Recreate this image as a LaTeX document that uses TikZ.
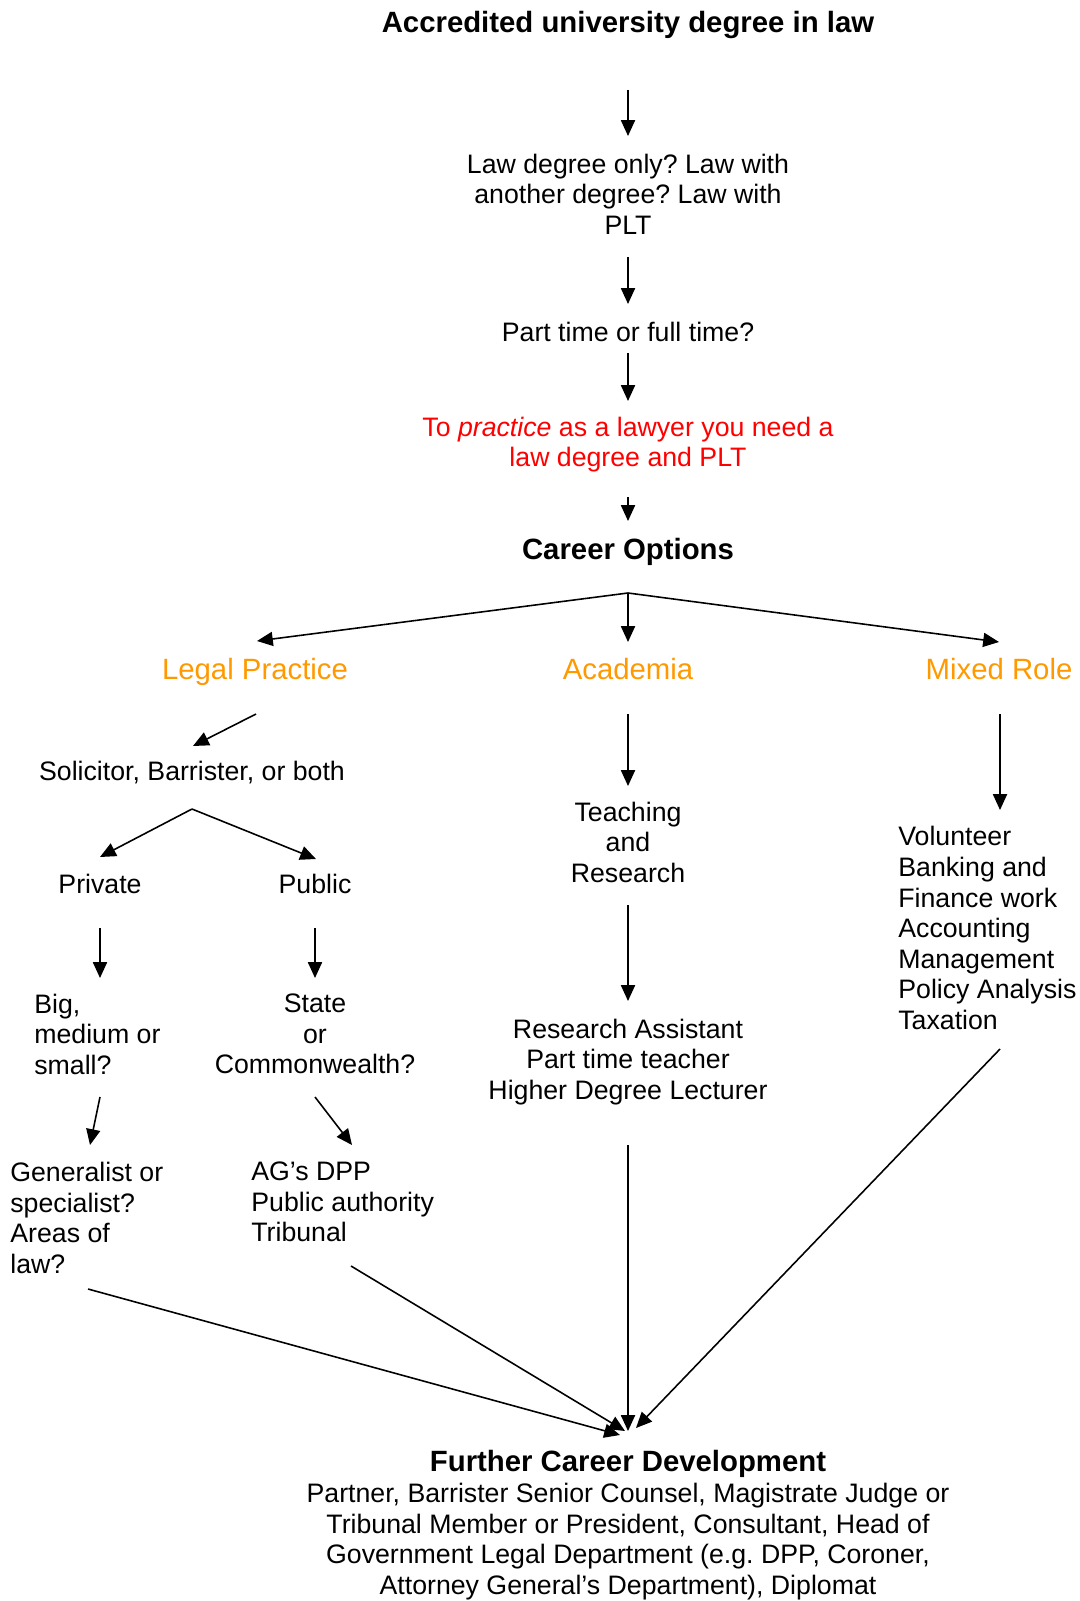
\documentclass[tikz,border=0pt]{standalone}
\usepackage{fontspec}
\setmainfont{Liberation Sans}
\usetikzlibrary{arrows.meta}
\definecolor{branchorange}{RGB}{255,153,0}
\frenchspacing
\begin{document}
\begin{tikzpicture}[x=0.02cm,y=-0.02cm,
    >={Triangle[length=9pt,width=8pt]},
    every node/.style={inner sep=0pt,text depth=0pt,font=\fontsize{15.2}{17.4}\selectfont},
    heading/.style={font=\fontsize{16.7}{19}\selectfont\bfseries},
    branch/.style={text=branchorange,font=\fontsize{16.7}{19}\selectfont},
    flow/.style={->,line width=0.9pt}]
            \useasboundingbox (0,0) rectangle (1079,1601);

            % main column
            \node[heading] (degree) at (628,22) {Accredited university degree in law};
            \node[align=center] (lawwith) at (628,194) {Law degree only? Law with\\another degree? Law with\\PLT};
            \node (parttime) at (628,332) {Part time or full time?};
            \node[align=center,text=red] (practise) at (628,442) {To \textit{practice} as a lawyer you need a\\law degree and PLT};
            \node[heading] (career) at (628,549) {Career Options};

            \coordinate (degout) at (628,90);    \coordinate (lawin) at (628,136);
            \coordinate (lawout) at (628,257);   \coordinate (partin) at (628,304);
            \coordinate (partout) at (628,353);  \coordinate (pracin) at (628,401);
            \coordinate (pracout) at (628,497);  \coordinate (carin) at (628,521);
            \draw[flow] (degout)--(lawin);
            \draw[flow] (lawout)--(partin);
            \draw[flow] (partout)--(pracin);
            \draw[flow] (pracout)--(carin);

            % three branches
            \node[branch] (legal) at (255,669) {Legal Practice};
            \node[branch] (academia) at (628,669) {Academia};
            \node[branch] (mixed) at (999,669) {Mixed Role};

            \coordinate (split) at (628,593);
            \coordinate (legalin) at (257,641);
            \coordinate (acadin) at (628,642);
            \coordinate (mixedin) at (999,642);
            \draw[flow] (split)--(legalin);
            \draw[flow] (split)--(acadin);
            \draw[flow] (split)--(mixedin);

            % legal practice
            \node (solicitor) at (192,771) {Solicitor, Barrister, or both};
            \node (private) at (100,884) {Private};
            \node (public) at (315,884) {Public};
            \node[anchor=west,align=left] (size) at (34,1034) {Big,\\medium or\\small?};
            \node[align=center] (state) at (315,1034) {State\\or\\Commonwealth?};
            \node[anchor=west,align=left] (areas) at (10,1218) {Generalist or\\specialist?\\Areas of\\law?};
            \node[anchor=west,align=left] (agency) at (251,1202) {AG's DPP\\Public authority\\Tribunal};

            \coordinate (legalout) at (256,714);  \coordinate (solin) at (193,746);
            \coordinate (solsplit) at (192,809);
            \coordinate (privin) at (100,857);    \coordinate (pubin) at (316,859);
            \coordinate (privout) at (100,928);   \coordinate (sizein) at (100,978);
            \coordinate (pubout) at (315,928);    \coordinate (statein) at (315,978);
            \coordinate (sizeout) at (100,1097);  \coordinate (areasin) at (90,1145);
            \coordinate (stateout) at (315,1097); \coordinate (agencyin) at (352,1145);
            \draw[flow] (legalout)--(solin);
            \draw[flow] (solsplit)--(privin);
            \draw[flow] (solsplit)--(pubin);
            \draw[flow] (privout)--(sizein);
            \draw[flow] (pubout)--(statein);
            \draw[flow] (sizeout)--(areasin);
            \draw[flow] (stateout)--(agencyin);

            % academia
            \node[align=center] (teaching) at (628,842) {Teaching\\and\\Research};
            \node[align=center] (roles) at (628,1059) {Research Assistant\\Part time teacher\\Higher Degree Lecturer};

            \coordinate (acadout) at (628,714);   \coordinate (teachin) at (628,786);
            \coordinate (teachout) at (628,905);  \coordinate (rolesin) at (628,1001);
            \draw[flow] (acadout)--(teachin);
            \draw[flow] (teachout)--(rolesin);

            % mixed role
            \node[anchor=west,align=left] (mixedlist) at (898,928) {Volunteer\\Banking and\\Finance work\\Accounting\\Management\\Policy Analysis\\Taxation};

            \coordinate (mixedout) at (1000,714); \coordinate (listin) at (1000,810);
            \draw[flow] (mixedout)--(listin);

            % further career development
            \node[heading] (further) at (628,1461) {Further Career Development};
            \node[align=center] (furtherlist) at (628,1539) {Partner, Barrister Senior Counsel, Magistrate Judge or\\Tribunal Member or President, Consultant, Head of\\Government Legal Department (e.g. DPP, Coroner,\\Attorney General's Department), Diplomat};

            \coordinate (areasout) at (88,1289);   \coordinate (areasend) at (620,1435);
            \coordinate (agencyout) at (351,1266); \coordinate (agencyend) at (625,1431);
            \coordinate (rolesout) at (628,1145);  \coordinate (rolesend) at (628,1431);
            \coordinate (listout) at (1000,1049);  \coordinate (listend) at (636,1428);
            \draw[flow] (areasout)--(areasend);
            \draw[flow] (agencyout)--(agencyend);
            \draw[flow] (rolesout)--(rolesend);
            \draw[flow] (listout)--(listend);
        \end{tikzpicture}
\end{document}
